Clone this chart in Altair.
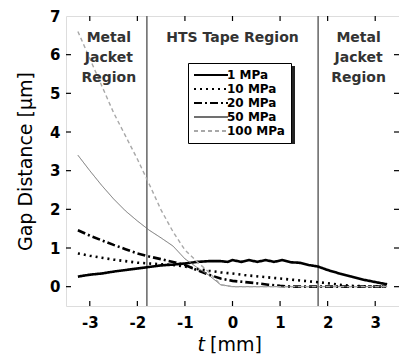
import altair as alt
import pandas as pd

# ---- data ----
pressures = ["1 MPa", "10 MPa", "20 MPa", "50 MPa", "100 MPa"]

t_grid = [-3.25, -3.0, -2.75, -2.5, -2.25, -2.0, -1.75, -1.5, -1.25, -1.0, -0.75, -0.5, -0.25,
          0.0, 0.25, 0.5, 0.75, 1.0, 1.25, 1.5, 1.75, 2.0, 2.25, 2.5, 2.75, 3.0, 3.25]
gap_10 = [0.86, 0.80, 0.75, 0.70, 0.66, 0.62, 0.60, 0.58, 0.56, 0.52, 0.46, 0.41, 0.37,
          0.34, 0.30, 0.27, 0.24, 0.21, 0.18, 0.15, 0.12, 0.09, 0.05, 0.02, 0.01, 0.0, 0.0]
gap_20 = [1.46, 1.32, 1.20, 1.08, 0.97, 0.86, 0.78, 0.71, 0.64, 0.56, 0.43, 0.31, 0.21,
          0.15, 0.12, 0.09, 0.05, 0.02, 0.0, 0.0, 0.0, 0.0, 0.0, 0.0, 0.0, 0.0, 0.0]
gap_50 = [3.40, 3.00, 2.62, 2.27, 1.96, 1.70, 1.46, 1.26, 1.05, 0.72, 0.50, 0.30, 0.05,
          0.0, 0.0, 0.0, 0.0, 0.0, 0.0, 0.0, 0.0, 0.0, 0.0, 0.0, 0.0, 0.0, 0.0]
gap_100 = [6.60, 5.90, 5.20, 4.50, 3.90, 3.30, 2.65, 1.98, 1.42, 0.95, 0.65, 0.38, 0.05,
           0.0, 0.0, 0.0, 0.0, 0.0, 0.0, 0.0, 0.0, 0.0, 0.0, 0.0, 0.0, 0.0, 0.0]

t_1 = [-3.25, -3.0, -2.75, -2.5, -2.25, -2.0, -1.75, -1.5, -1.25, -1.0, -0.75, -0.5, -0.25,
       -0.1, 0.0, 0.18, 0.35, 0.52, 0.7, 0.87, 1.05, 1.22, 1.4, 1.6, 1.8, 2.0, 2.25, 2.5,
       2.75, 3.0, 3.25]
gap_1 = [0.26, 0.31, 0.34, 0.39, 0.43, 0.47, 0.51, 0.55, 0.57, 0.60, 0.64, 0.66, 0.66,
         0.64, 0.69, 0.64, 0.69, 0.64, 0.69, 0.64, 0.69, 0.63, 0.62, 0.56, 0.52, 0.43, 0.34,
         0.26, 0.18, 0.12, 0.06]

region_text = ["Metal\nJacket\nRegion", "HTS Tape Region", "Metal\nJacket\nRegion"]
region_t = [-2.6, 0.0, 2.65]
region_v = [6.6, 6.6, 6.6]

boundary_t = [-1.8, 1.8]
x_ticks = [-3, -2, -1, 0, 1, 2, 3]
y_ticks = [0, 1, 2, 3, 4, 5, 6]

# ---- styling ----
colors = ["#000000", "#000000", "#000000", "#707070", "#a8a8a8"]
dashes = [[1, 0], [2, 4], [8, 3, 2, 3], [1, 0], [4, 3]]
widths = [2.6, 2.6, 2.6, 1.0, 1.4]
FONT = "DejaVu Sans"
W, H = 333, 290

rows = []
for t, v in zip(t_1, gap_1):
    rows.append({"t": t, "v": v, "p": "1 MPa", "w": widths[0]})
for i, vals in enumerate([gap_10, gap_20, gap_50, gap_100], start=1):
    for t, v in zip(t_grid, vals):
        rows.append({"t": t, "v": v, "p": pressures[i], "w": widths[i]})
df = pd.DataFrame(rows)

xs = alt.Scale(domain=[-3.5, 3.5], nice=False, zero=False)
ys = alt.Scale(domain=[-0.5, 7], nice=False, zero=False)

xaxis = alt.Axis(values=x_ticks, ticks=False, domain=False, grid=False, labelFont=FONT,
                 labelFontSize=15, labelFontWeight="bold", labelColor="black",
                 labelPadding=9, title=None, labelExpr="'' + datum.value")
yaxis = alt.Axis(values=list(range(0, 8)), ticks=False, domain=False, grid=False,
                 labelFont=FONT, labelFontSize=15, labelFontWeight="bold",
                 labelColor="black", labelPadding=6, title="Gap Distance [μm]",
                 titleFont=FONT, titleFontSize=19, titleFontWeight="normal",
                 titleColor="black", titlePadding=14)

pscale_c = alt.Scale(domain=pressures, range=colors)
pscale_d = alt.Scale(domain=pressures, range=dashes)

legend = alt.Legend(title=None, orient="none", legendX=122, legendY=47,
                    symbolType="M-3.4,0H3.4", symbolSize=100, labelFont=FONT,
                    labelFontSize=12, labelFontWeight="bold", labelColor="black",
                    fillColor="white", strokeColor="black", padding=6,
                    rowPadding=2, symbolOffset=11, labelOffset=10,
                    symbolStrokeWidth=2)

lines = alt.Chart(df).mark_line(clip=True).encode(
    x=alt.X("t:Q", scale=xs, axis=xaxis),
    y=alt.Y("v:Q", scale=ys, axis=yaxis),
    color=alt.Color("p:N", scale=pscale_c, legend=legend, sort=pressures),
    strokeDash=alt.StrokeDash("p:N", scale=pscale_d, legend=legend, sort=pressures),
    strokeWidth=alt.StrokeWidth("w:Q", scale=None),
    detail="p:N",
)

bdf = pd.DataFrame({"t": boundary_t})
bounds = alt.Chart(bdf).mark_rule(color="#6e6e6e", strokeWidth=1.6).encode(
    x=alt.X("t:Q", scale=xs))

xtdf = pd.DataFrame({"t": x_ticks})
ytdf = pd.DataFrame({"v": y_ticks})
tick_bottom = alt.Chart(xtdf).mark_rule(color="black", strokeWidth=1.2).encode(
    x=alt.X("t:Q", scale=xs), y=alt.value(H), y2=alt.value(H - 5))
tick_top = alt.Chart(xtdf).mark_rule(color="black", strokeWidth=1.2).encode(
    x=alt.X("t:Q", scale=xs), y=alt.value(0), y2=alt.value(5))
tick_left = alt.Chart(ytdf).mark_rule(color="black", strokeWidth=1.2).encode(
    y=alt.Y("v:Q", scale=ys), x=alt.value(0), x2=alt.value(5))
tick_right = alt.Chart(ytdf).mark_rule(color="black", strokeWidth=1.2).encode(
    y=alt.Y("v:Q", scale=ys), x=alt.value(W), x2=alt.value(W - 5))

rdf = pd.DataFrame({"txt": region_text, "t": region_t, "v": region_v})
regions = alt.Chart(rdf).mark_text(font=FONT, fontSize=14, fontWeight="bold", color="#333",
                                   baseline="top", align="center", lineBreak="\n",
                                   lineHeight=20).encode(
    x=alt.X("t:Q", scale=xs), y=alt.Y("v:Q", scale=ys), text="txt:N")

shadow = alt.Chart(pd.DataFrame({"a": [0]})).mark_rect(color="#222").encode(
    x=alt.value(125), x2=alt.value(229), y=alt.value(50), y2=alt.value(128))

title_t = alt.Chart(pd.DataFrame({"s": ["t"]})).mark_text(
    font=FONT, fontSize=19, fontStyle="italic", align="right",
    baseline="alphabetic", color="black").encode(
    x=alt.value(139), y=alt.value(335), text="s:N")
title_mm = alt.Chart(pd.DataFrame({"s": ["[mm]"]})).mark_text(
    font=FONT, fontSize=19, align="left",
    baseline="alphabetic", color="black").encode(
    x=alt.value(144), y=alt.value(335), text="s:N")

chart = alt.layer(
    bounds, shadow, lines, regions, tick_bottom, tick_top, tick_left, tick_right,
    title_t, title_mm
).properties(
    width=W, height=H,
    autosize=alt.AutoSizeParams(type="none"),
    padding={"left": 58, "top": 8, "right": 0, "bottom": 49},
).configure_view(
    stroke="black", strokeWidth=1.5
).configure(background="white")

chart.save("out.html", embed_options={"renderer": "svg", "actions": False})
